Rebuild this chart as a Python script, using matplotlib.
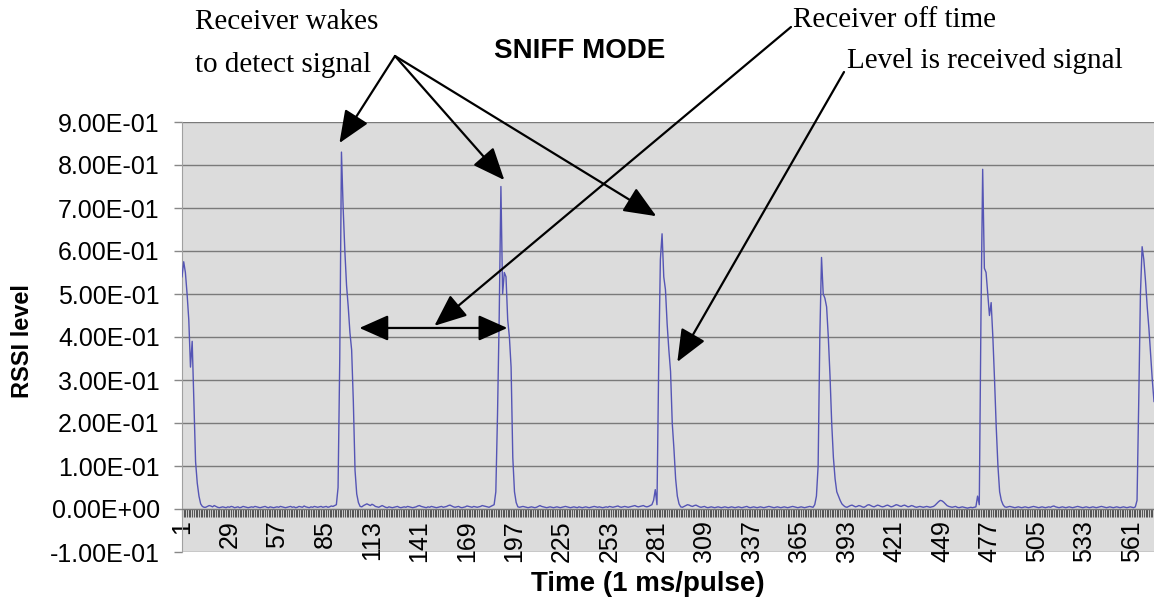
import matplotlib
matplotlib.use('Agg')
import matplotlib.pyplot as plt
import numpy as np
from matplotlib.patches import ArrowStyle

# RSSI samples, one per 1 ms pulse (category 1..574)
pulse_0 = [0.540, 0.575, 0.550, 0.500, 0.440, 0.330, 0.390, 0.250, 0.110, 0.060,
           0.030, 0.012, 0.006, 0.004]
gap_0 = [0.004, 0.006, 0.008, 0.007, 0.005, 0.008, 0.006, 0.004, 0.003, 0.004,
         0.005, 0.004, 0.003, 0.005, 0.004, 0.006, 0.005, 0.003, 0.004, 0.005,
         0.003, 0.004, 0.006, 0.005, 0.004, 0.003, 0.004, 0.005, 0.004, 0.006,
         0.005, 0.004, 0.003, 0.004, 0.005, 0.006, 0.004, 0.003, 0.005, 0.004,
         0.003, 0.004, 0.005, 0.004, 0.006, 0.005, 0.004, 0.003, 0.004, 0.005,
         0.006, 0.004, 0.005, 0.003, 0.004, 0.006, 0.005, 0.004, 0.007, 0.005,
         0.004, 0.003, 0.005, 0.004, 0.006, 0.005, 0.004, 0.005, 0.006, 0.004,
         0.005, 0.006, 0.004, 0.005, 0.007, 0.006, 0.008]
pulse_1 = [0.010, 0.050, 0.350, 0.830, 0.700, 0.600, 0.520, 0.470, 0.410, 0.370,
           0.250, 0.090, 0.035, 0.015, 0.006]
gap_1 = [0.005, 0.008, 0.010, 0.012, 0.010, 0.008, 0.011, 0.009, 0.006, 0.005,
         0.004, 0.006, 0.008, 0.006, 0.004, 0.003, 0.005, 0.004, 0.003, 0.004,
         0.005, 0.006, 0.004, 0.003, 0.004, 0.005, 0.004, 0.006, 0.005, 0.004,
         0.003, 0.004, 0.005, 0.007, 0.008, 0.006, 0.005, 0.004, 0.003, 0.005,
         0.004, 0.006, 0.005, 0.004, 0.003, 0.004, 0.005, 0.006, 0.004, 0.005,
         0.006, 0.008, 0.009, 0.007, 0.005, 0.004, 0.005, 0.006, 0.004, 0.003,
         0.004, 0.005, 0.007, 0.006, 0.005, 0.004, 0.006, 0.005, 0.004, 0.005,
         0.006, 0.008, 0.007, 0.006, 0.005, 0.004, 0.006, 0.008]
pulse_2 = [0.010, 0.040, 0.220, 0.450, 0.750, 0.500, 0.550, 0.540, 0.440, 0.400,
           0.330, 0.120, 0.040, 0.015, 0.005]
gap_2 = [0.004, 0.005, 0.006, 0.005, 0.004, 0.003, 0.004, 0.005, 0.004, 0.003,
         0.004, 0.006, 0.008, 0.006, 0.005, 0.004, 0.003, 0.004, 0.005, 0.004,
         0.003, 0.004, 0.005, 0.004, 0.003, 0.004, 0.005, 0.006, 0.005, 0.004,
         0.003, 0.004, 0.005, 0.004, 0.003, 0.005, 0.004, 0.003, 0.004, 0.005,
         0.004, 0.003, 0.004, 0.005, 0.006, 0.005, 0.004, 0.005, 0.004, 0.003,
         0.004, 0.005, 0.004, 0.006, 0.005, 0.004, 0.005, 0.006, 0.007, 0.005,
         0.004, 0.005, 0.006, 0.005, 0.004, 0.005, 0.006, 0.007, 0.008, 0.006,
         0.005, 0.006, 0.007, 0.008, 0.006, 0.005, 0.006, 0.008, 0.010]
pulse_3 = [0.020, 0.045, 0.010, 0.330, 0.580, 0.640, 0.540, 0.510, 0.430, 0.370,
           0.320, 0.200, 0.140, 0.070, 0.030, 0.012, 0.005]
gap_3 = [0.004, 0.006, 0.008, 0.010, 0.009, 0.007, 0.006, 0.008, 0.009, 0.007,
         0.005, 0.004, 0.005, 0.006, 0.004, 0.003, 0.004, 0.005, 0.004, 0.003,
         0.004, 0.005, 0.004, 0.003, 0.004, 0.005, 0.004, 0.003, 0.004, 0.005,
         0.004, 0.003, 0.004, 0.005, 0.004, 0.003, 0.004, 0.005, 0.006, 0.004,
         0.003, 0.004, 0.005, 0.004, 0.003, 0.004, 0.005, 0.004, 0.003, 0.004,
         0.005, 0.006, 0.005, 0.004, 0.003, 0.004, 0.005, 0.004, 0.003, 0.004,
         0.005, 0.004, 0.003, 0.004, 0.005, 0.006, 0.005, 0.004, 0.003, 0.004,
         0.005, 0.004, 0.003, 0.004, 0.005, 0.006, 0.005, 0.004]
pulse_4 = [0.010, 0.030, 0.100, 0.400, 0.585, 0.500, 0.490, 0.470, 0.400, 0.310,
           0.200, 0.120, 0.070, 0.040, 0.030, 0.020, 0.012, 0.008, 0.005]
gap_4 = [0.004, 0.006, 0.008, 0.009, 0.007, 0.005, 0.006, 0.008, 0.007, 0.005,
         0.004, 0.006, 0.009, 0.010, 0.008, 0.006, 0.005, 0.007, 0.009, 0.008,
         0.006, 0.005, 0.006, 0.008, 0.009, 0.007, 0.005, 0.006, 0.008, 0.010,
         0.009, 0.007, 0.006, 0.008, 0.009, 0.007, 0.005, 0.006, 0.008, 0.007,
         0.005, 0.004, 0.005, 0.006, 0.005, 0.004, 0.005, 0.006, 0.005, 0.004,
         0.005, 0.006, 0.009, 0.013, 0.017, 0.020, 0.019, 0.016, 0.012, 0.008,
         0.006, 0.005, 0.004, 0.005, 0.006, 0.004, 0.003, 0.004, 0.005, 0.004,
         0.003, 0.002, 0.003, 0.004, 0.003, 0.004]
pulse_5 = [0.005, 0.030, 0.010, 0.450, 0.790, 0.560, 0.550, 0.500, 0.450, 0.480,
           0.400, 0.300, 0.190, 0.100, 0.040, 0.020, 0.010, 0.005]
gap_5 = [0.004, 0.005, 0.006, 0.005, 0.004, 0.003, 0.004, 0.005, 0.004, 0.003,
         0.004, 0.005, 0.004, 0.003, 0.004, 0.005, 0.006, 0.005, 0.004, 0.003,
         0.004, 0.005, 0.004, 0.003, 0.004, 0.005, 0.004, 0.006, 0.007, 0.005,
         0.004, 0.003, 0.004, 0.005, 0.004, 0.003, 0.004, 0.005, 0.004, 0.003,
         0.004, 0.005, 0.006, 0.005, 0.004, 0.003, 0.004, 0.005, 0.004, 0.003,
         0.004, 0.005, 0.004, 0.003, 0.004, 0.005, 0.006, 0.005, 0.004, 0.003,
         0.004, 0.005, 0.004, 0.003, 0.004, 0.005, 0.004, 0.003, 0.004, 0.005,
         0.004, 0.003, 0.004, 0.005, 0.004, 0.003, 0.005]
pulse_6 = [0.020, 0.250, 0.500, 0.610, 0.580, 0.530, 0.470, 0.420, 0.360, 0.300,
           0.250]

rssi = (pulse_0 + gap_0 + pulse_1 + gap_1 + pulse_2 + gap_2 + pulse_3 + gap_3
        + pulse_4 + gap_4 + pulse_5 + gap_5 + pulse_6)
pulse_no = np.arange(1, len(rssi) + 1)

x_labels = list(range(1, 562, 28))
y_ticks = [-0.1, 0.0, 0.1, 0.2, 0.3, 0.4, 0.5, 0.6, 0.7, 0.8, 0.9]

W, H = 1154, 605
fig = plt.figure(figsize=(W / 100, H / 100), dpi=100)
ax = fig.add_axes([182 / W, 1 - 552 / H, (W - 182) / W, 430 / H])

sans = 'Liberation Sans'
serif = 'Liberation Serif'

ax.set_facecolor('#dcdcdc')
ax.plot(pulse_no, rssi, color='#5555b5', lw=1.0, zorder=3)
ax.set_xlim(1, 573.5)
ax.set_ylim(-0.1, 0.9)

# y axis in Excel style
ax.set_yticks(y_ticks)
ax.set_yticklabels([f"{v:.2E}" for v in y_ticks], family=sans, fontsize=18)
ax.yaxis.grid(True, color='#7a7a7a', lw=1.0, zorder=1)
ax.set_axisbelow(True)
ax.tick_params(axis='y', length=6, width=1, color='#888888', pad=10)

# category axis crossing at zero, tick at every pulse, label every 28th
ax.spines['bottom'].set_position(('data', 0))
ax.spines['bottom'].set_color('#777777')
ax.spines['left'].set_color('#a0a0a0')
ax.spines['top'].set_visible(False)
ax.spines['right'].set_visible(False)
ax.set_xticks(x_labels)
ax.set_xticklabels([str(v) for v in x_labels], rotation=90, family=sans, fontsize=18)
ax.set_xticks(pulse_no, minor=True)
ax.tick_params(axis='x', which='both', length=6, width=0.8, color='#555555',
               direction='out', pad=2)

ax.set_ylabel('RSSI level', family=sans, fontsize=17, fontweight='bold')
ax.yaxis.set_label_coords((34 - 182) / 972, 0.49)
ax.set_xlabel('Time (1 ms/pulse)', family=sans, fontsize=20, fontweight='bold')
ax.xaxis.set_label_coords((648 - 182) / 972, -0.045)

fig.text(580 / W, 1 - 58 / H, 'SNIFF MODE', family=sans, fontsize=20,
         fontweight='bold', ha='center', va='baseline')

# annotations
def px(x, y):
    return (x, H - y)

head = ArrowStyle('-|>', head_length=1.0, head_width=0.42)
arrow = dict(arrowstyle=head, mutation_scale=20, lw=1.6, color='black',
             shrinkA=0, shrinkB=0)

fig.text(195 / W, 1 - 29 / H, 'Receiver wakes', family=serif, fontsize=21, va='baseline')
fig.text(195 / W, 1 - 72 / H, 'to detect signal', family=serif, fontsize=21, va='baseline')
for tip in [(93.8, 0.851), (191.0, 0.765), (280.6, 0.681)]:
    ax.annotate('', xy=tip, xytext=px(395, 56), textcoords='figure pixels',
                arrowprops=arrow, annotation_clip=False)

fig.text(793 / W, 1 - 27 / H, 'Receiver off time', family=serif, fontsize=21, va='baseline')
ax.annotate('', xy=(149.8, 0.426), xytext=px(791, 27), textcoords='figure pixels',
            arrowprops=arrow, annotation_clip=False)
ax.annotate('', xy=(105.6, 0.421), xytext=(192.8, 0.421),
            arrowprops=dict(arrow, arrowstyle=ArrowStyle('<|-|>', head_length=0.9,
                                                         head_width=0.4)))

fig.text(847 / W, 1 - 68 / H, 'Level is received signal', family=serif, fontsize=21,
         va='baseline')
ax.annotate('', xy=(293.0, 0.342), xytext=px(844, 72), textcoords='figure pixels',
            arrowprops=arrow, annotation_clip=False)

fig.savefig('out.png', dpi=100)
